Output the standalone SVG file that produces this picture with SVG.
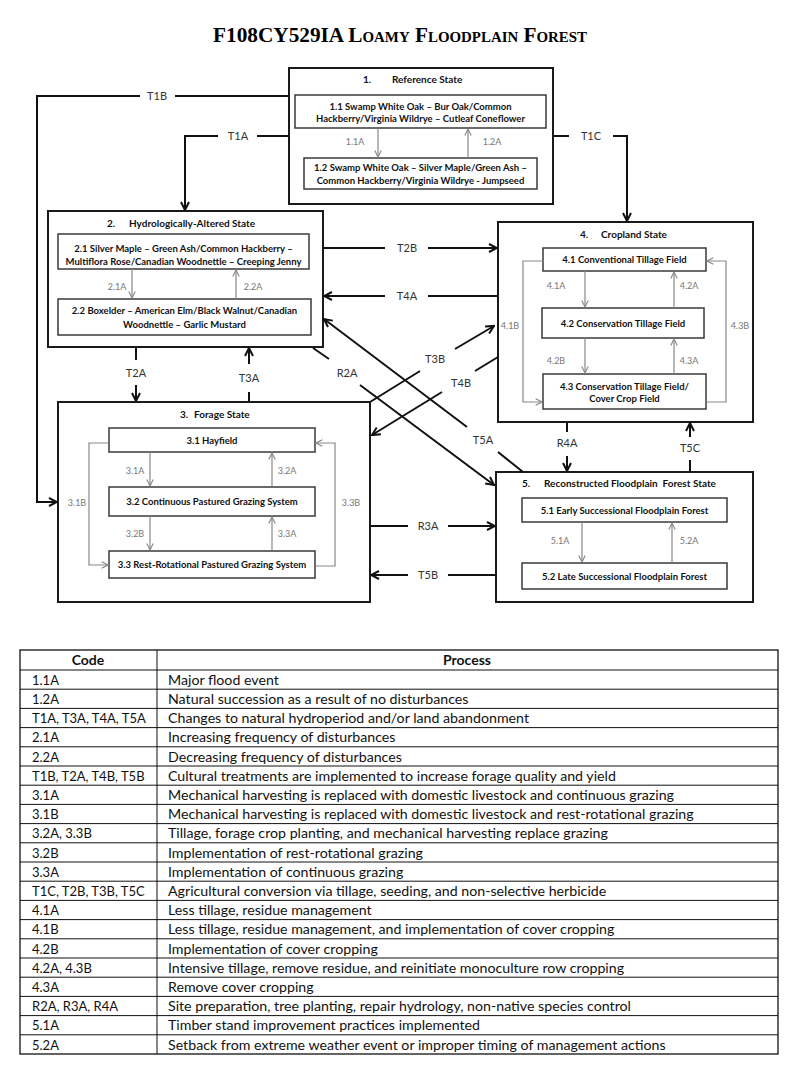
<svg xmlns="http://www.w3.org/2000/svg" width="800" height="1071" viewBox="0 0 800 1071">
<style>
.bg{fill:#fff}
.state{fill:#fff;stroke:#1a1a1a;stroke-width:2}
.phase{fill:#fff;stroke:#3a3a3a;stroke-width:1.5}
.st{font-family:Lato,"Open Sans",sans-serif;font-weight:bold;font-size:10px;fill:#111}
.ph{font-family:Lato,"Open Sans",sans-serif;font-weight:bold;font-size:9.5px;fill:#111;text-anchor:middle}
.con{fill:none;stroke:#111;stroke-width:2}
.ic{fill:none;stroke:#888;stroke-width:1.2}
.cl{font-family:Lato,"Open Sans",sans-serif;font-size:11px;fill:#333;text-anchor:middle}
.il{font-family:Lato,"Open Sans",sans-serif;font-size:9px;fill:#777;text-anchor:middle}
.tl{stroke:#111;stroke-width:1}
.tt{font-family:Lato,"Open Sans",sans-serif;font-size:14.2px;fill:#111}
.tc{font-size:13px}
.th{font-family:Lato,"Open Sans",sans-serif;font-size:14px;font-weight:bold;fill:#111;text-anchor:middle}
</style>
<defs>
<marker id="ab" viewBox="0 0 10 10" refX="9" refY="5" markerWidth="10" markerHeight="10" markerUnits="userSpaceOnUse" orient="auto"><path d="M1,1 L9,5 L1,9" fill="none" stroke="#111" stroke-width="2"/></marker>
<marker id="ag" viewBox="0 0 10 10" refX="9" refY="5" markerWidth="8" markerHeight="8" markerUnits="userSpaceOnUse" orient="auto"><path d="M1,1 L9,5 L1,9" fill="none" stroke="#888" stroke-width="1.4"/></marker>
</defs>
<rect class="bg" x="0" y="0" width="800" height="1071"/>
<text x="400" y="42" text-anchor="middle" font-family="'Liberation Serif',serif" font-weight="bold" font-size="20" style="font-variant:small-caps" textLength="374" lengthAdjust="spacingAndGlyphs">F108CY529IA Loamy Floodplain Forest</text>

<g id="state1">
<rect class="state" x="289" y="68" width="264" height="136"/>
<text class="st" y="82.5"><tspan x="363">1.</tspan><tspan x="392">Reference State</tspan></text>
<g id="phase1-1"><rect class="phase" x="295" y="95" width="251" height="33"/>
<text class="ph" x="420.5" y="109.5">1.1 Swamp White Oak – Bur Oak/Common</text>
<text class="ph" x="420.5" y="121.5">Hackberry/Virginia Wildrye – Cutleaf Coneflower</text></g>
<g id="phase1-2"><rect class="phase" x="304" y="158" width="233" height="31"/>
<text class="ph" x="420.5" y="170.5">1.2 Swamp White Oak – Silver Maple/Green Ash –</text>
<text class="ph" x="420.5" y="183.5">Common Hackberry/Virginia Wildrye - Jumpseed</text></g>
</g>

<g id="state2">
<rect class="state" x="48" y="211" width="275" height="136"/>
<text class="st" y="226.5"><tspan x="107">2.</tspan><tspan x="129">Hydrologically-Altered State</tspan></text>
<g id="phase2-1"><rect class="phase" x="58" y="234" width="251" height="35"/>
<text class="ph" x="183.5" y="251.5">2.1 Silver Maple – Green Ash/Common Hackberry –</text>
<text class="ph" x="183.5" y="265">Multiflora Rose/Canadian Woodnettle – Creeping Jenny</text></g>
<g id="phase2-2"><rect class="phase" x="58" y="299" width="253" height="36"/>
<text class="ph" x="184.5" y="313.5">2.2 Boxelder – American Elm/Black Walnut/Canadian</text>
<text class="ph" x="184.5" y="327.5">Woodnettle – Garlic Mustard</text></g>
</g>

<g id="state3">
<rect class="state" x="58" y="402" width="312" height="200"/>
<text class="st" y="417.5"><tspan x="180">3.</tspan><tspan x="194">Forage State</tspan></text>
<g id="phase3-1"><rect class="phase" x="109" y="428" width="206" height="24"/>
<text class="ph" x="212" y="443.5">3.1 Hayfield</text></g>
<g id="phase3-2"><rect class="phase" x="109" y="487" width="206" height="29"/>
<text class="ph" x="212" y="505">3.2 Continuous Pastured Grazing System</text></g>
<g id="phase3-3"><rect class="phase" x="109" y="551" width="206" height="27"/>
<text class="ph" x="212" y="568">3.3 Rest-Rotational Pastured Grazing System</text></g>
</g>

<g id="state4">
<rect class="state" x="498" y="222" width="255" height="200"/>
<text class="st" y="237.5"><tspan x="580">4.</tspan><tspan x="601">Cropland State</tspan></text>
<g id="phase4-1"><rect class="phase" x="543" y="248" width="163" height="23"/>
<text class="ph" x="624.5" y="263">4.1 Conventional Tillage Field</text></g>
<g id="phase4-2"><rect class="phase" x="542" y="308" width="162" height="30"/>
<text class="ph" x="623" y="326.5">4.2 Conservation Tillage Field</text></g>
<g id="phase4-3"><rect class="phase" x="543" y="374" width="163" height="35"/>
<text class="ph" x="624.5" y="389.5">4.3 Conservation Tillage Field/</text>
<text class="ph" x="624.5" y="401.5">Cover Crop Field</text></g>
</g>

<g id="state5">
<rect class="state" x="496" y="472" width="257" height="130"/>
<text class="st" y="486.5" style="white-space:pre"><tspan x="522">5.</tspan><tspan x="544">Reconstructed Floodplain  Forest State</tspan></text>
<g id="phase5-1"><rect class="phase" x="522" y="498" width="205" height="24"/>
<text class="ph" x="624.5" y="513.5">5.1 Early Successional Floodplain Forest</text></g>
<g id="phase5-2"><rect class="phase" x="522" y="563" width="205" height="26"/>
<text class="ph" x="624.5" y="579.5">5.2 Late Successional Floodplain Forest</text></g>
</g>

<g id="connectors">
<path class="con" d="M289,96 H175 M140,96 H37 V502 H57" marker-end="url(#ab)"/>
<path class="con" d="M289,136 H257 M218,136 H185 V210" marker-end="url(#ab)"/>
<path class="con" d="M553,136 H569 M613,136 H627 V221" marker-end="url(#ab)"/>
<path class="con" d="M323,248 H385 M428,248 H497" marker-end="url(#ab)"/>
<path class="con" d="M498,296 H428 M385,296 H324" marker-end="url(#ab)"/>
<path class="con" d="M136,347 V360 M136,385 V401" marker-end="url(#ab)"/>
<path class="con" d="M249,402 V392 M249,364 V348" marker-end="url(#ab)"/>
<path class="con" d="M313,348 L329,359 M360,385 L494,485" marker-end="url(#ab)"/>
<path class="con" d="M523,472 L498,452 M467,427 L324,319" marker-end="url(#ab)"/>
<path class="con" d="M370,402 L420,371 M455,349 L494,326" marker-end="url(#ab)"/>
<path class="con" d="M498,357 L475,371 M442,392 L372,435" marker-end="url(#ab)"/>
<path class="con" d="M370,526 H408 M448,526 H495" marker-end="url(#ab)"/>
<path class="con" d="M496,575 H448 M408,575 H371" marker-end="url(#ab)"/>
<path class="con" d="M567,422 V432 M567,456 V471" marker-end="url(#ab)"/>
<path class="con" d="M690,472 V460 M690,437 V423" marker-end="url(#ab)"/>
<text class="cl" x="157" y="100">T1B</text>
<text class="cl" x="238" y="140">T1A</text>
<text class="cl" x="591" y="140">T1C</text>
<text class="cl" x="407" y="252">T2B</text>
<text class="cl" x="407" y="300">T4A</text>
<text class="cl" x="136" y="377">T2A</text>
<text class="cl" x="249" y="382">T3A</text>
<text class="cl" x="347" y="377">R2A</text>
<text class="cl" x="483" y="444">T5A</text>
<text class="cl" x="435" y="363">T3B</text>
<text class="cl" x="461" y="387">T4B</text>
<text class="cl" x="428" y="530">R3A</text>
<text class="cl" x="428" y="579">T5B</text>
<text class="cl" x="567" y="447">R4A</text>
<text class="cl" x="690" y="452">T5C</text>

<path class="ic" d="M378,128 V157" marker-end="url(#ag)"/>
<path class="ic" d="M468,158 V129" marker-end="url(#ag)"/>
<path class="ic" d="M132,269 V298" marker-end="url(#ag)"/>
<path class="ic" d="M236,299 V270" marker-end="url(#ag)"/>
<path class="ic" d="M150,452 V486" marker-end="url(#ag)"/>
<path class="ic" d="M272,487 V453" marker-end="url(#ag)"/>
<path class="ic" d="M150,516 V550" marker-end="url(#ag)"/>
<path class="ic" d="M272,551 V517" marker-end="url(#ag)"/>
<path class="ic" d="M109,443 H89 V565 H108" marker-end="url(#ag)"/>
<path class="ic" d="M315,566 H335 V443 H316" marker-end="url(#ag)"/>
<path class="ic" d="M585,271 V307" marker-end="url(#ag)"/>
<path class="ic" d="M674,308 V272" marker-end="url(#ag)"/>
<path class="ic" d="M585,338 V373" marker-end="url(#ag)"/>
<path class="ic" d="M674,374 V339" marker-end="url(#ag)"/>
<path class="ic" d="M543,261 H523 V402 H542" marker-end="url(#ag)"/>
<path class="ic" d="M706,402 H726 V261 H707" marker-end="url(#ag)"/>
<path class="ic" d="M582,522 V562" marker-end="url(#ag)"/>
<path class="ic" d="M672,563 V523" marker-end="url(#ag)"/>
<text class="il" x="355" y="145">1.1A</text>
<text class="il" x="492" y="145">1.2A</text>
<text class="il" x="117" y="290">2.1A</text>
<text class="il" x="253" y="290">2.2A</text>
<text class="il" x="135" y="474">3.1A</text>
<text class="il" x="287" y="474">3.2A</text>
<text class="il" x="135" y="537">3.2B</text>
<text class="il" x="287" y="537">3.3A</text>
<text class="il" x="77" y="506">3.1B</text>
<text class="il" x="351" y="506">3.3B</text>
<text class="il" x="556" y="289">4.1A</text>
<text class="il" x="689" y="289">4.2A</text>
<text class="il" x="556" y="364">4.2B</text>
<text class="il" x="689" y="364">4.3A</text>
<text class="il" x="510" y="329">4.1B</text>
<text class="il" x="740" y="329">4.3B</text>
<text class="il" x="560" y="544">5.1A</text>
<text class="il" x="689" y="544">5.2A</text>
</g>

<g id="table">
<rect x="20" y="650" width="758" height="404" fill="#fff" stroke="#111" stroke-width="1.3"/>
<line class="tl" x1="157" y1="650" x2="157" y2="1054"/>
<path class="tl" fill="none" d="M20,670H778 M20,689.2H778 M20,708.4H778 M20,727.6H778 M20,746.8H778 M20,766H778 M20,785.2H778 M20,804.4H778 M20,823.6H778 M20,842.8H778 M20,862H778 M20,881.2H778 M20,900.4H778 M20,919.6H778 M20,938.8H778 M20,958H778 M20,977.2H778 M20,996.4H778 M20,1015.6H778 M20,1034.8H778"/>
<text class="th" x="88" y="665">Code</text>
<text class="th" x="467" y="665">Process</text>
<g class="tt">
<text class="tc" x="32" y="684.8">1.1A</text><text x="168" y="684.8">Major flood event</text>
<text class="tc" x="32" y="704">1.2A</text><text x="168" y="704">Natural succession as a result of no disturbances</text>
<text class="tc" x="32" y="723.2">T1A, T3A, T4A, T5A</text><text x="168" y="723.2">Changes to natural hydroperiod and/or land abandonment</text>
<text class="tc" x="32" y="742.4">2.1A</text><text x="168" y="742.4">Increasing frequency of disturbances</text>
<text class="tc" x="32" y="761.6">2.2A</text><text x="168" y="761.6">Decreasing frequency of disturbances</text>
<text class="tc" x="32" y="780.8">T1B, T2A, T4B, T5B</text><text x="168" y="780.8">Cultural treatments are implemented to increase forage quality and yield</text>
<text class="tc" x="32" y="800">3.1A</text><text x="168" y="800">Mechanical harvesting is replaced with domestic livestock and continuous grazing</text>
<text class="tc" x="32" y="819.2">3.1B</text><text x="168" y="819.2">Mechanical harvesting is replaced with domestic livestock and rest-rotational grazing</text>
<text class="tc" x="32" y="838.4">3.2A, 3.3B</text><text x="168" y="838.4">Tillage, forage crop planting, and mechanical harvesting replace grazing</text>
<text class="tc" x="32" y="857.6">3.2B</text><text x="168" y="857.6">Implementation of rest-rotational grazing</text>
<text class="tc" x="32" y="876.8">3.3A</text><text x="168" y="876.8">Implementation of continuous grazing</text>
<text class="tc" x="32" y="896">T1C, T2B, T3B, T5C</text><text x="168" y="896">Agricultural conversion via tillage, seeding, and non-selective herbicide</text>
<text class="tc" x="32" y="915.2">4.1A</text><text x="168" y="915.2">Less tillage, residue management</text>
<text class="tc" x="32" y="934.4">4.1B</text><text x="168" y="934.4">Less tillage, residue management, and implementation of cover cropping</text>
<text class="tc" x="32" y="953.6">4.2B</text><text x="168" y="953.6">Implementation of cover cropping</text>
<text class="tc" x="32" y="972.8">4.2A, 4.3B</text><text x="168" y="972.8">Intensive tillage, remove residue, and reinitiate monoculture row cropping</text>
<text class="tc" x="32" y="992">4.3A</text><text x="168" y="992">Remove cover cropping</text>
<text class="tc" x="32" y="1011.2">R2A, R3A, R4A</text><text x="168" y="1011.2">Site preparation, tree planting, repair hydrology, non-native species control</text>
<text class="tc" x="32" y="1030.4">5.1A</text><text x="168" y="1030.4">Timber stand improvement practices implemented</text>
<text class="tc" x="32" y="1049.6">5.2A</text><text x="168" y="1049.6">Setback from extreme weather event or improper timing of management actions</text>
</g>
</g>
</svg>
